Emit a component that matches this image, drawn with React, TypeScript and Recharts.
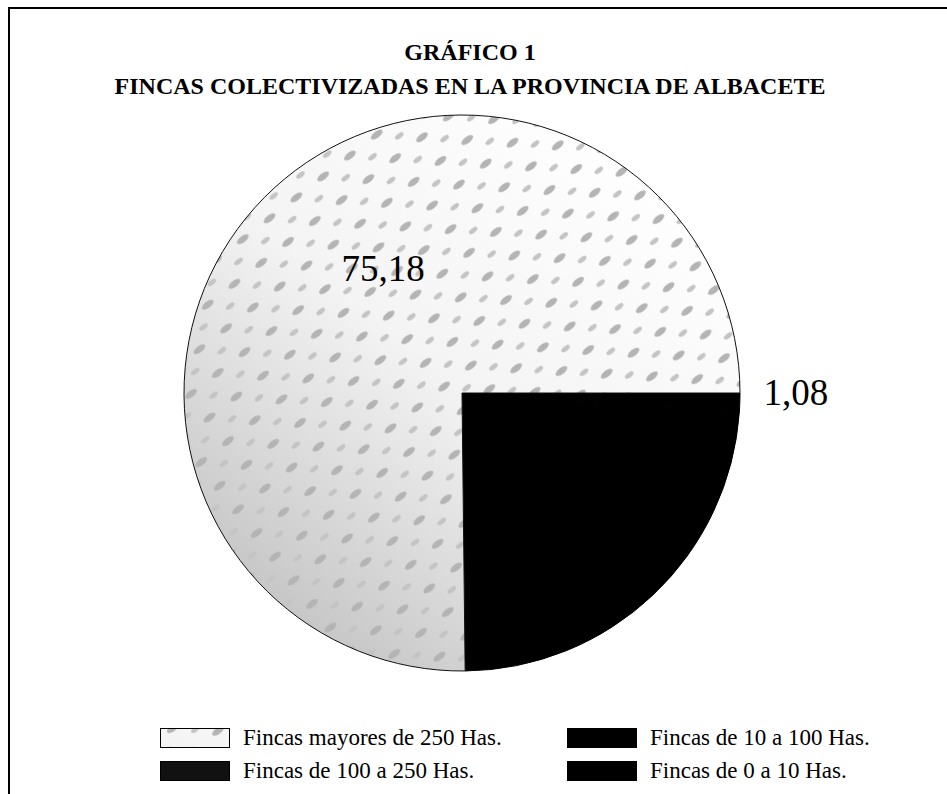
import { PieChart, Pie, Cell, Legend } from "recharts";

const CATEGORIES = [
  "Fincas de 100 a 250 Has.",
  "Fincas de 10 a 100 Has.",
  "Fincas de 0 a 10 Has.",
  "Fincas mayores de 250 Has.",
];
const VALUES = [23.74, 1.08, 0, 75.18];
const LABELS = ["", "1,08", "", "75,18"];
// legend is filled row by row: mayores | 10-100 / 100-250 | 0-10
const LEGEND_ORDER = [3, 1, 0, 2];

const FILLS = ["#000000", "#000000", "#000000", "url(#mixFill)"];
const STROKES = ["#000000", "#000000", "#000000", "#111111"];
const SWATCHES = ["#111111", "#000000", "#000000", "url(#mixFill)"];

const data = CATEGORIES.map((name, i) => ({ name, value: VALUES[i] }));

const FONT = '"Liberation Serif", "Times New Roman", serif';
const RAD = Math.PI / 180;

// black block ends exactly at 3 o'clock
const START = -(VALUES[0] + VALUES[1] + VALUES[2]) * 3.6;

function SliceLabel(props: any) {
  const { cx, cy, midAngle, outerRadius, index } = props;
  const text = LABELS[index];
  if (!text) return null;
  const inside = index === 3;
  const r = inside ? outerRadius * 0.53 : outerRadius + 56;
  const a = inside ? midAngle - 13 : midAngle + 2;
  const x = cx + r * Math.cos(-a * RAD);
  const y = cy + r * Math.sin(-a * RAD);
  return (
    <text
      x={x}
      y={y}
      textAnchor="middle"
      dominantBaseline="central"
      fontFamily={FONT}
      fontSize={37}
      fill="#000"
    >
      {text}
    </text>
  );
}

function PatternDefs() {
  return (
    <defs>
      <linearGradient id="shade" gradientUnits="userSpaceOnUse" x1="650" y1="150" x2="270" y2="620">
        <stop offset="0" stopColor="#ffffff" />
        <stop offset="0.5" stopColor="#f4f4f4" />
        <stop offset="1" stopColor="#c4c4c4" />
      </linearGradient>
      <pattern id="blobs" patternUnits="userSpaceOnUse" width="34" height="30" patternTransform="rotate(-38)">
        <ellipse cx="10" cy="8" rx="7" ry="3.2" fill="#b4b4b4" />
        <ellipse cx="27" cy="23" rx="5" ry="2.4" fill="#c4c4c4" />
      </pattern>
      <pattern id="mixFill" patternUnits="userSpaceOnUse" x="0" y="0" width="947" height="794">
        <rect x="0" y="0" width="947" height="794" fill="url(#shade)" />
        <rect x="0" y="0" width="947" height="794" fill="url(#blobs)" />
      </pattern>
    </defs>
  );
}

function LegendBox() {
  return (
    <div
      style={{
        display: "grid",
        gridTemplateColumns: "407px 320px",
        rowGap: 13,
        fontFamily: FONT,
        fontSize: 23,
        color: "#000",
      }}
    >
      {LEGEND_ORDER.map((i, k) => (
        <div key={k} style={{ display: "flex", alignItems: "center", height: 20 }}>
          <svg width={70} height={20} style={{ marginRight: 13, flexShrink: 0 }}>
            <rect x={0.5} y={0.5} width={69} height={19} fill={SWATCHES[i]} stroke="#000" strokeWidth={1} />
          </svg>
          <span style={{ whiteSpace: "nowrap" }}>{CATEGORIES[i]}</span>
        </div>
      ))}
    </div>
  );
}

export default function App() {
  return (
    <div
      style={{
        position: "absolute",
        left: 0,
        top: 0,
        width: 947,
        height: 794,
        background: "#fff",
        overflow: "hidden",
      }}
    >
      <div style={{ position: "absolute", left: 8, top: 7, width: 939, height: 0, borderTop: "2px solid #000" }} />
      <div style={{ position: "absolute", left: 8, top: 7, width: 0, height: 787, borderLeft: "2px solid #000" }} />
      <div
        style={{
          position: "absolute",
          left: 0,
          top: 35,
          width: 940,
          textAlign: "center",
          fontFamily: FONT,
          fontWeight: "bold",
          fontSize: 24,
          lineHeight: "34px",
          color: "#000",
        }}
      >
        <div>GRÁFICO 1</div>
        <div>FINCAS COLECTIVIZADAS EN LA PROVINCIA DE ALBACETE</div>
      </div>
      <div style={{ position: "absolute", left: 0, top: 0 }}>
        <PieChart width={947} height={794}>
          <PatternDefs />
          <Pie
            data={data}
            dataKey="value"
            nameKey="name"
            cx={457}
            cy={388}
            outerRadius={278}
            startAngle={START}
            endAngle={START + 360}
            strokeWidth={1}
            label={SliceLabel}
            labelLine={false}
            isAnimationActive={false}
          >
            {data.map((d, i) => (
              <Cell key={d.name} fill={FILLS[i]} stroke={STROKES[i]} />
            ))}
          </Pie>
          <Legend
            content={() => <LegendBox />}
            wrapperStyle={{ position: "absolute", left: 160, top: 728, width: 760 }}
          />
        </PieChart>
      </div>
    </div>
  );
}
